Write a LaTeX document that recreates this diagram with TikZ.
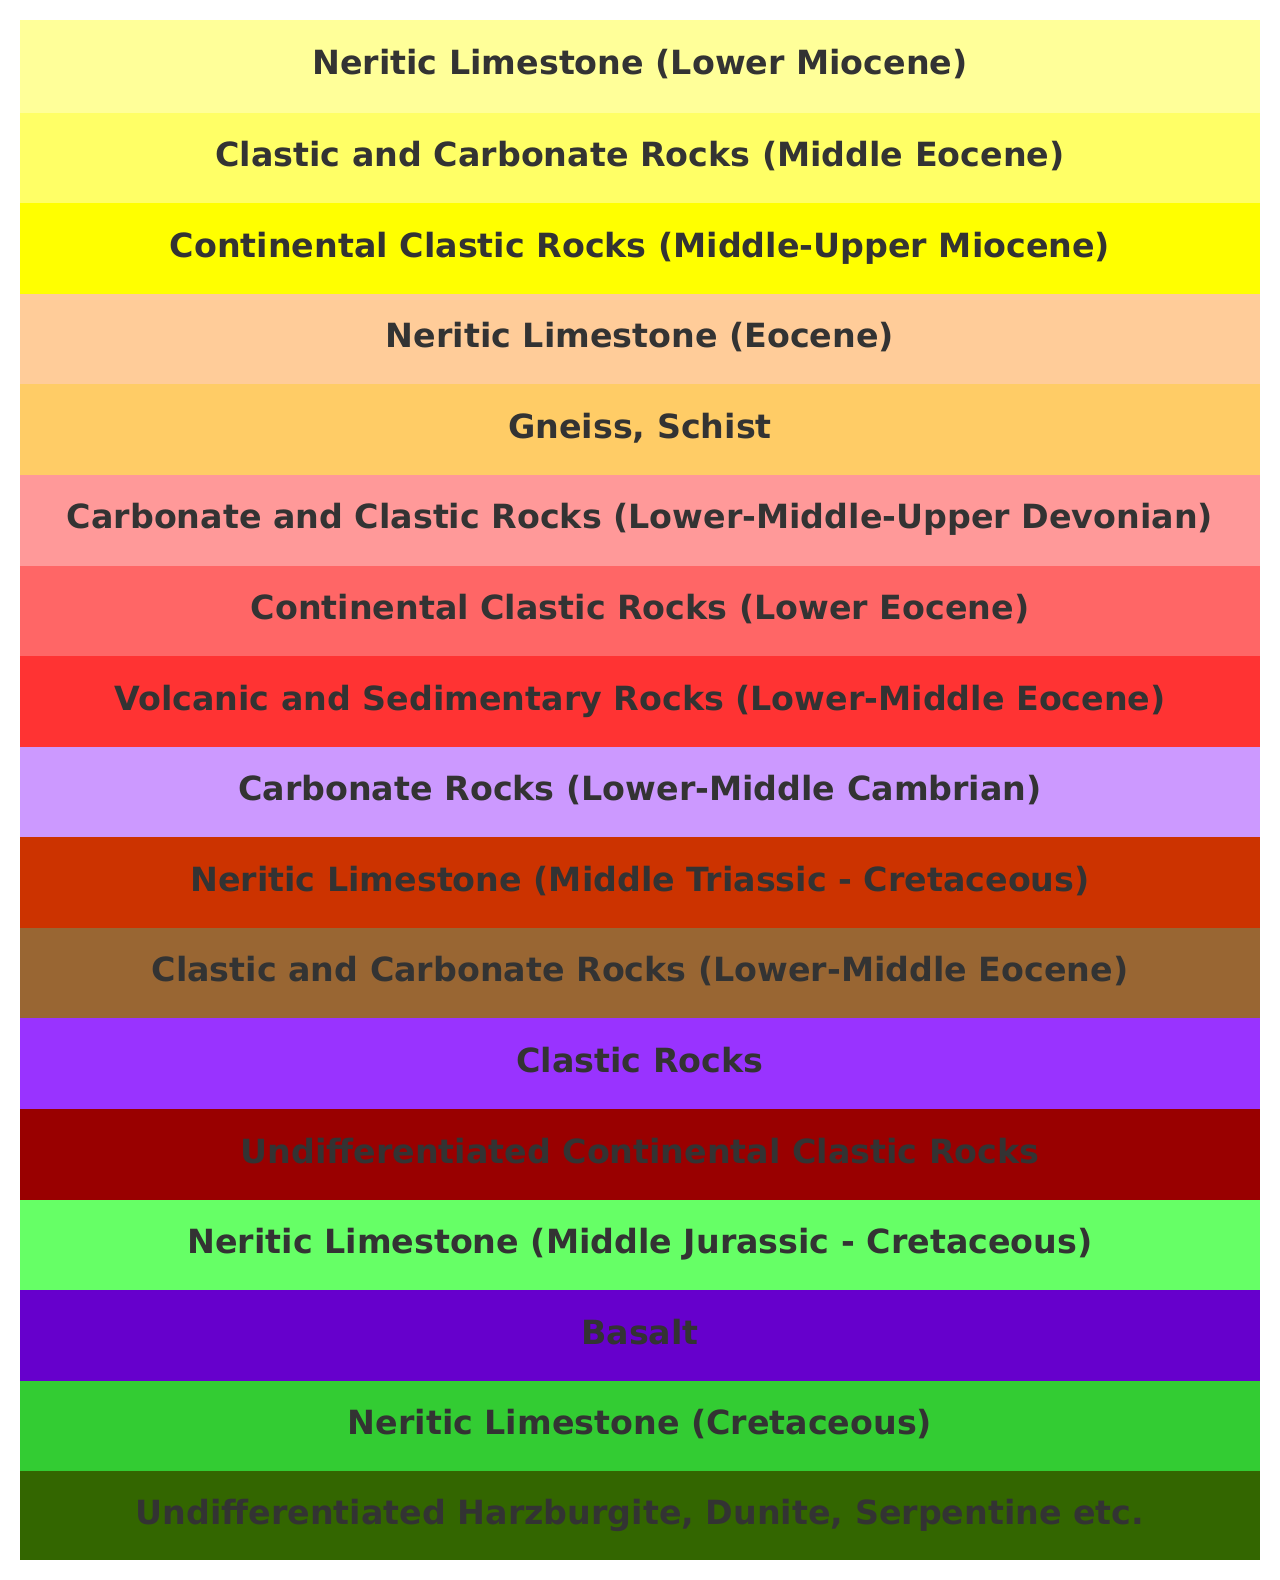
\documentclass[tikz,border=0pt]{standalone}
\usepackage{fontspec}
\setmainfont{DejaVu Sans}
\usetikzlibrary{positioning}
\definecolor{lyrtext}{HTML}{333333}
\definecolor{lyrA}{HTML}{FFFF99}
\definecolor{lyrB}{HTML}{FFFF66}
\definecolor{lyrC}{HTML}{FFFF00}
\definecolor{lyrD}{HTML}{FFCC99}
\definecolor{lyrE}{HTML}{FFCC66}
\definecolor{lyrF}{HTML}{FF9999}
\definecolor{lyrG}{HTML}{FF6666}
\definecolor{lyrH}{HTML}{FF3333}
\definecolor{lyrI}{HTML}{CC99FF}
\definecolor{lyrJ}{HTML}{CC3300}
\definecolor{lyrK}{HTML}{996633}
\definecolor{lyrL}{HTML}{9933FF}
\definecolor{lyrM}{HTML}{990000}
\definecolor{lyrN}{HTML}{66FF66}
\definecolor{lyrO}{HTML}{6600CC}
\definecolor{lyrP}{HTML}{33CC33}
\definecolor{lyrQ}{HTML}{336600}
\begin{document}
\begin{tikzpicture}[x=1pt,y=1pt,node distance=0pt,
    layer/.style={fill=#1,draw=none,inner sep=0pt,outer sep=0pt,minimum width=1240pt,minimum height=90.59pt,
      text height=25.3pt,text depth=7.9pt,text=lyrtext,font=\fontsize{33.3}{38}\selectfont\bfseries}]
    \useasboundingbox (0,0) rectangle (1280,1580);
    \node[layer=lyrA,minimum height=92.6pt,anchor=north] (l1) at (640,1560) {Neritic Limestone (Lower Miocene)};
    \node[layer=lyrB,below=of l1] (l2) {Clastic and Carbonate Rocks (Middle Eocene)};
    \node[layer=lyrC,below=of l2] (l3) {Continental Clastic Rocks (Middle-Upper Miocene)};
    \node[layer=lyrD,below=of l3] (l4) {Neritic Limestone (Eocene)};
    \node[layer=lyrE,below=of l4] (l5) {Gneiss, Schist};
    \node[layer=lyrF,below=of l5] (l6) {Carbonate and Clastic Rocks (Lower-Middle-Upper Devonian)};
    \node[layer=lyrG,below=of l6] (l7) {Continental Clastic Rocks (Lower Eocene)};
    \node[layer=lyrH,below=of l7] (l8) {Volcanic and Sedimentary Rocks (Lower-Middle Eocene)};
    \node[layer=lyrI,below=of l8] (l9) {Carbonate Rocks (Lower-Middle Cambrian)};
    \node[layer=lyrJ,below=of l9] (l10) {Neritic Limestone (Middle Triassic - Cretaceous)};
    \node[layer=lyrK,below=of l10] (l11) {Clastic and Carbonate Rocks (Lower-Middle Eocene)};
    \node[layer=lyrL,below=of l11] (l12) {Clastic Rocks};
    \node[layer=lyrM,below=of l12] (l13) {Undifferentiated Continental Clastic Rocks};
    \node[layer=lyrN,below=of l13] (l14) {Neritic Limestone (Middle Jurassic - Cretaceous)};
    \node[layer=lyrO,below=of l14] (l15) {Basalt};
    \node[layer=lyrP,below=of l15] (l16) {Neritic Limestone (Cretaceous)};
    \node[layer=lyrQ,minimum height=88.6pt,below=of l16] (l17) {Undifferentiated Harzburgite, Dunite, Serpentine etc.};
  \end{tikzpicture}
\end{document}
